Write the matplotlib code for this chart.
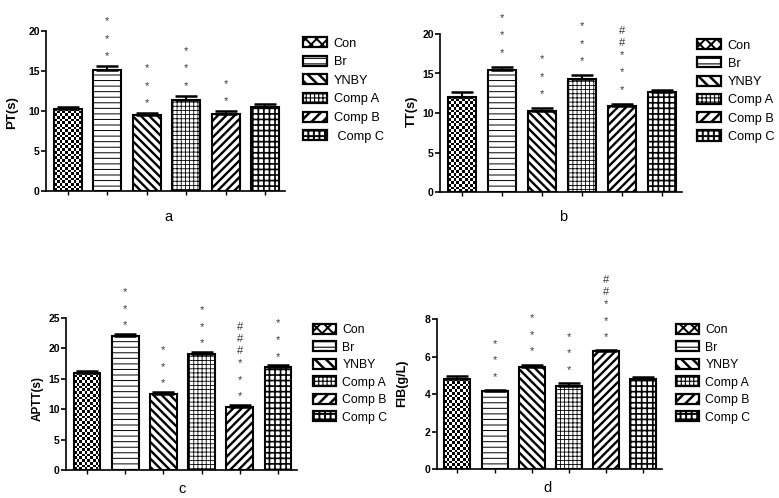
import numpy as np
import matplotlib
matplotlib.use("Agg")
import matplotlib.pyplot as plt
from matplotlib.patches import Patch

plt.rcParams['font.family'] = ['Liberation Sans', 'DejaVu Sans']

groups = ["Con", "Br", "YNBY", "Comp A", "Comp B", "Comp C"]
legend_a = ["Con", "Br", "YNBY", "Comp A", "Comp B", " Comp C"]

pt_vals = [10.3, 15.1, 9.5, 11.4, 9.6, 10.5]
pt_err = [0.15, 0.5, 0.2, 0.5, 0.35, 0.35]
pt_sig = ["", "***", "***", "***", "**", ""]

tt_vals = [12.05, 15.5, 10.25, 14.3, 10.9, 12.6]
tt_err = [0.6, 0.35, 0.35, 0.5, 0.25, 0.3]
tt_sig = ["", "***", "***", "***", "##***", ""]

aptt_vals = [16.0, 22.1, 12.5, 19.1, 10.4, 16.9]
aptt_err = [0.35, 0.3, 0.35, 0.3, 0.3, 0.3]
aptt_sig = ["", "***", "***", "***", "###***", "***"]

fib_vals = [4.82, 4.15, 5.42, 4.42, 6.28, 4.78]
fib_err = [0.14, 0.06, 0.15, 0.17, 0.06, 0.14]
fib_sig = ["", "***", "***", "***", "##***", ""]

W, H = 779, 498
fig = plt.figure(figsize=(W / 100, H / 100), dpi=100)

# hatch styles: (hatch, hatch linewidth)
styles = [None, ('---', 0.7), ('\\\\\\\\', 1.7), ('++++', 0.6), ('////', 1.7), ('+++', 1.2)]
legend_styles = [('xxx', 1.4), ('---', 0.8), ('\\\\\\', 1.8), ('++++', 0.8), ('///', 1.8), ('+++', 1.4)]


def px_rect(x0, x1, ytop, ybot):
    return [x0 / W, 1 - ybot / H, (x1 - x0) / W, (ybot - ytop) / H]


panels = [
    dict(rect=px_rect(46, 285, 31, 191), vals=pt_vals, err=pt_err, sig=pt_sig, ylim=20, step=5,
         ylabel="PT(s)", ylfs=9.5, lab_x=-0.117, lab_y=0.49, letter="a", letter_xy=(168, 217),
         leg=(303, 37), labels=legend_a, lfs=9.2, lspace=0.48, gap=10, sstep=17.5),
    dict(rect=px_rect(440, 682, 34, 192), vals=tt_vals, err=tt_err, sig=tt_sig, ylim=20, step=5,
         ylabel="TT(s)", ylfs=9.3, lab_x=-0.091, lab_y=0.51, letter="b", letter_xy=(563, 217),
         leg=(697, 39), labels=groups, lfs=9.2, lspace=0.45, gap=14, sstep=17.5),
    dict(rect=px_rect(66, 297, 318, 470), vals=aptt_vals, err=aptt_err, sig=aptt_sig, ylim=25, step=5,
         ylabel="APTT(s)", ylfs=8.5, lab_x=-0.095, lab_y=0.47, letter="c", letter_xy=(182, 489),
         leg=(313, 324), labels=groups, lfs=8.8, lspace=0.44, gap=8.5, sstep=16.7),
    dict(rect=px_rect(437, 662, 319, 469), vals=fib_vals, err=fib_err, sig=fib_sig, ylim=8, step=2,
         ylabel="FIB(g/L)", ylfs=9, lab_x=-0.129, lab_y=0.57, letter="d", letter_xy=(547, 488),
         leg=(676, 324), labels=groups, lfs=8.8, lspace=0.44, gap=13, sstep=16.5),
]

x = np.arange(len(groups))
bw = 0.7

for p in panels:
    ax = fig.add_axes(p['rect'])
    ax.set_xlim(-0.55, 5.5)
    ax.set_ylim(0, p['ylim'])
    bars = ax.bar(x, p['vals'], width=bw, facecolor='white', edgecolor='black',
                  linewidth=1.5, zorder=2)
    for b, st in zip(bars, styles):
        if st is None:
            b.set_facecolor('none')
            continue
        b.set_hatch(st[0])
        if hasattr(b, 'set_hatch_linewidth'):
            b.set_hatch_linewidth(st[1])
    # checkerboard texture for Con bar, clipped to the bar itself
    cb = bars[0]
    fig.canvas.draw()
    pxx = ax.bbox.width / (ax.get_xlim()[1] - ax.get_xlim()[0])
    pxy = ax.bbox.height / (ax.get_ylim()[1] - ax.get_ylim()[0])
    cell = 2.7
    nx = max(1, int(round(cb.get_width() * pxx / cell)))
    ny = max(1, int(round(cb.get_height() * pxy / cell)))
    checker = np.indices((ny, nx)).sum(axis=0) % 2
    im = ax.imshow(checker, cmap='gray', interpolation='nearest', aspect='auto',
                   extent=(cb.get_x(), cb.get_x() + cb.get_width(), 0, cb.get_height()),
                   origin='lower', zorder=1)
    im.set_clip_path(cb)
    ax.set_xlim(-0.55, 5.5)
    ax.set_ylim(0, p['ylim'])

    ax.errorbar(x, p['vals'], yerr=[np.zeros(len(x)), p['err']], fmt='none',
                ecolor='black', elinewidth=1.5, capsize=8, capthick=1.8, zorder=3)

    for i, s in enumerate(p['sig']):
        if not s:
            continue
        syms = list(reversed(s))
        off = p['gap']
        prev = None
        for sym in syms:
            if prev is not None:
                off += p['sstep'] if (sym == '*' and prev == '*') else 12
            ax.annotate(sym, xy=(x[i], p['vals'][i] + p['err'][i]),
                        xytext=(0, off * 0.72), textcoords='offset points',
                        ha='center', va='center', fontsize=8, color='#3a3a3a',
                        annotation_clip=False)
            prev = sym

    ax.spines['top'].set_visible(False)
    ax.spines['right'].set_visible(False)
    for sp in ('left', 'bottom'):
        ax.spines[sp].set_linewidth(1.2)
    ticks = np.arange(0, p['ylim'] + 0.01, p['step'])
    ax.set_yticks(ticks)
    ax.set_yticklabels([f"{int(v)}" for v in ticks], fontweight='bold', fontsize=7.5)
    ax.set_xticks(x)
    ax.set_xticklabels([])
    ax.tick_params(axis='y', length=3.5, width=1.2, pad=1)
    ax.tick_params(axis='x', length=3, width=1.0)
    ax.set_ylabel(p['ylabel'], fontsize=p['ylfs'], fontweight='bold')
    ax.yaxis.set_label_coords(p['lab_x'], p['lab_y'])

    fig.text(p['letter_xy'][0] / W, 1 - p['letter_xy'][1] / H, p['letter'],
             ha='center', va='center', fontsize=10.5)

    handles = []
    for hs in legend_styles:
        handles.append(Patch(facecolor='white', edgecolor='black', hatch=hs[0], linewidth=1.6))
    leg = ax.legend(handles, p['labels'], loc='upper left',
                    bbox_to_anchor=(p['leg'][0] / W, 1 - p['leg'][1] / H),
                    bbox_transform=fig.transFigure, frameon=False, fontsize=p['lfs'],
                    borderaxespad=0, borderpad=0, handlelength=1.9, handleheight=0.85,
                    handletextpad=0.5, labelspacing=p['lspace'])
    for h, hs in zip(leg.legend_handles, legend_styles):
        if hasattr(h, 'set_hatch_linewidth'):
            h.set_hatch_linewidth(hs[1])

fig.savefig("out.png", dpi=100)
